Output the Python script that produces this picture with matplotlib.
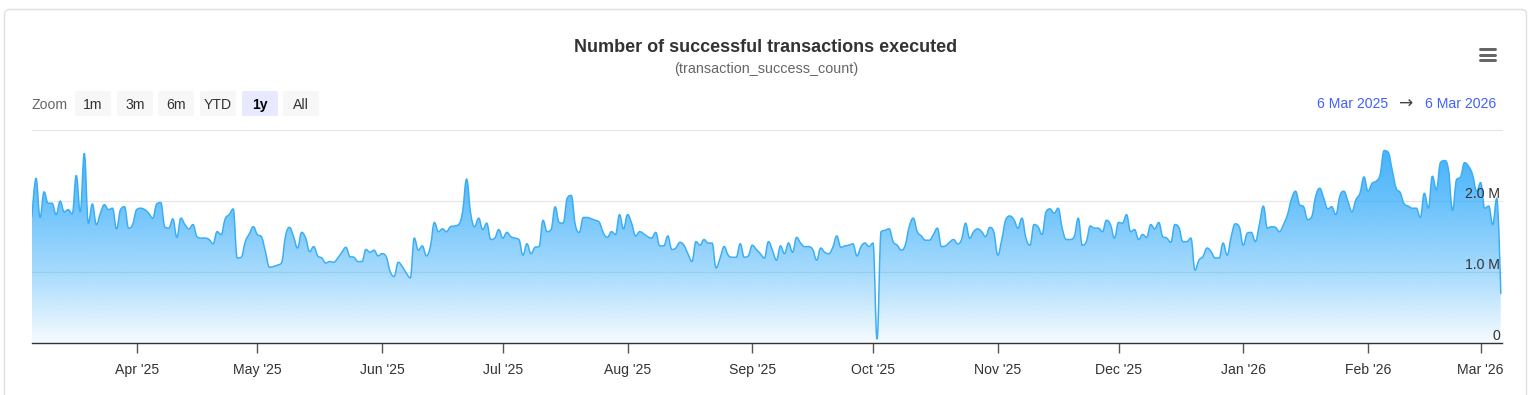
import numpy as np
import pandas as pd
import matplotlib
matplotlib.use("Agg")
import matplotlib.pyplot as plt
import matplotlib.dates as mdates
from matplotlib.path import Path
from matplotlib.patches import PathPatch, FancyBboxPatch
from matplotlib.lines import Line2D
from matplotlib.transforms import IdentityTransform

plt.rcParams['font.family'] = ['Liberation Sans', 'DejaVu Sans']

# ---------------- data ----------------
title = "Number of successful transactions executed"
subtitle = "(transaction_success_count)"
start_date = "2025-03-06"
range_start_label = "6 Mar 2025"
range_end_label = "6 Mar 2026"
zoom_buttons = ["1m", "3m", "6m", "YTD", "1y", "All"]
selected_button = "1y"
y_tick_values = [0, 1_000_000, 2_000_000]
y_tick_labels = ["0", "1.0 M", "2.0 M"]
y_grid_values = [0, 1_000_000, 2_000_000, 3_000_000]

# daily successful transactions (millions), 6 Mar 2025 .. 6 Mar 2026
tx_millions = [
    1.78, 2.32, 1.77, 2.13, 1.97, 1.97, 1.81, 2.00, 1.85, 1.88,
    1.82, 2.36, 1.85, 2.67, 1.69, 1.96, 1.67, 1.83, 1.95, 1.88,
    1.90, 1.61, 1.88, 1.92, 1.62, 1.67, 1.88, 1.90, 1.88, 1.83,
    1.76, 1.96, 1.98, 1.64, 1.62, 1.75, 1.49, 1.76, 1.67, 1.61,
    1.67, 1.50, 1.48, 1.48, 1.46, 1.40, 1.57, 1.53, 1.75, 1.81,
    1.89, 1.20, 1.21, 1.43, 1.54, 1.64, 1.53, 1.50, 1.29, 1.07,
    1.08, 1.10, 1.13, 1.51, 1.63, 1.50, 1.34, 1.56, 1.48, 1.29,
    1.36, 1.23, 1.20, 1.13, 1.15, 1.14, 1.20, 1.28, 1.35, 1.22,
    1.21, 1.15, 1.15, 1.32, 1.28, 1.31, 1.23, 1.26, 1.22, 1.01,
    0.94, 1.14, 1.08, 0.99, 0.92, 1.48, 1.31, 1.37, 1.23,
    1.36, 1.70, 1.57, 1.61, 1.57, 1.64, 1.65, 1.67, 1.85, 2.31,
    1.83, 1.64, 1.76, 1.60, 1.69, 1.46, 1.48, 1.60, 1.48, 1.56,
    1.50, 1.48, 1.46, 1.24, 1.40, 1.26, 1.35, 1.36, 1.73, 1.57,
    1.60, 1.92, 1.70, 1.69, 2.04, 2.08, 1.67, 1.56, 1.77, 1.77,
    1.75, 1.73, 1.70, 1.55, 1.49, 1.57, 1.53, 1.81, 1.61, 1.81,
    1.69, 1.51, 1.57, 1.54, 1.50, 1.48, 1.56, 1.37, 1.37, 1.51,
    1.32, 1.34, 1.42, 1.38, 1.26, 1.15, 1.43, 1.38, 1.46, 1.41,
    1.41, 1.06, 1.20, 1.36, 1.24, 1.21, 1.21, 1.40, 1.21, 1.23,
    1.38, 1.32, 1.26, 1.20, 1.43, 1.31, 1.17, 1.37, 1.26, 1.41,
    1.28, 1.49, 1.41, 1.36, 1.36, 1.32, 1.17, 1.34,
    1.28, 1.26, 1.35, 1.51, 1.35, 1.37, 1.38, 1.40, 1.23, 1.36,
    1.41, 1.36, 1.41, 0.06, 1.57, 1.59, 1.61, 1.43, 1.38, 1.31,
    1.38, 1.64, 1.76, 1.57, 1.51, 1.45, 1.45, 1.53, 1.62, 1.36,
    1.37, 1.42, 1.46, 1.40, 1.46, 1.69, 1.48, 1.57, 1.61, 1.57,
    1.50, 1.63, 1.57, 1.24, 1.46, 1.74, 1.79, 1.74, 1.62, 1.76,
    1.48, 1.38, 1.67, 1.64, 1.53, 1.85, 1.89, 1.83, 1.90, 1.62,
    1.46, 1.46, 1.50, 1.76, 1.38, 1.43, 1.65, 1.62, 1.62, 1.57,
    1.73, 1.67, 1.48, 1.70, 1.69, 1.81, 1.57, 1.60, 1.46, 1.53,
    1.49, 1.67, 1.61, 1.70, 1.50, 1.48, 1.42, 1.67, 1.63, 1.43,
    1.43, 1.48, 1.03, 1.17, 1.22, 1.34,
    1.29, 1.20, 1.20, 1.41, 1.24, 1.50, 1.68, 1.64, 1.38, 1.55,
    1.56, 1.43, 1.67, 1.93, 1.62, 1.64, 1.63, 1.57, 1.67, 1.81,
    2.03, 2.14, 1.95, 1.92, 1.74, 1.78, 2.07, 2.18, 2.04, 1.89,
    1.92, 1.81, 2.07, 2.14, 2.00, 1.85, 2.02, 2.11, 2.34, 2.14,
    2.25, 2.28, 2.37, 2.71, 2.69, 2.44, 2.18, 2.12, 1.96, 1.93,
    1.90, 1.90, 1.77, 2.11, 1.90, 2.35, 2.16, 2.54, 2.57, 2.44,
    1.87, 2.30, 2.34, 2.54, 2.49, 2.37, 2.14, 2.26, 1.90, 1.93,
    1.67, 2.04, 0.70,
]

# ---------------- figure ----------------
W, H = 1531, 395
fig = plt.figure(figsize=(W / 100, H / 100), dpi=100)
fig.patch.set_facecolor("white")


def fx(px):
    return px / W


def fy(py):
    return 1 - py / H


PX = 0.72  # px -> pt at dpi 100

# outer card border
fig.add_artist(FancyBboxPatch((4.5, -20), 1522, H - 9.5 + 20,
                              boxstyle="round,pad=0,rounding_size=5",
                              transform=IdentityTransform(), facecolor="white",
                              edgecolor="#e0e0e0", linewidth=1.0, zorder=0))

# title / subtitle
fig.text(fx(766), fy(52.5), title, ha="center", va="baseline",
         fontsize=18 * PX, fontweight="bold", color="#333333")
fig.text(fx(766), fy(73.5), subtitle, ha="center", va="baseline",
         fontsize=14.4 * PX, color="#666666")

# hamburger menu
for yy in (49.3, 54.7, 60.3):
    fig.add_artist(Line2D([fx(1479.5), fx(1494.5)], [fy(yy), fy(yy)],
                          transform=fig.transFigure, color="#666666",
                          linewidth=3 * PX, solid_capstyle="round"))

# zoom buttons
fig.text(fx(32), fy(109.5), "Zoom", ha="left", va="baseline",
         fontsize=14 * PX, color="#666666")
btn_x = [75, 117, 158, 200, 242, 283]
btn_w = 36
for bx, lab in zip(btn_x, zoom_buttons):
    sel = lab == selected_button
    fig.add_artist(FancyBboxPatch((bx, H - 116), btn_w, 25,
                                  boxstyle="round,pad=0,rounding_size=2",
                                  transform=IdentityTransform(),
                                  facecolor="#e6e9ff" if sel else "#f7f7f7",
                                  edgecolor="none", zorder=1))
    fig.text(fx(bx + btn_w / 2), fy(109.5), lab, ha="center", va="baseline",
             fontsize=14 * PX, color="#000000" if sel else "#333333",
             fontweight="bold" if sel else "normal", zorder=2)

# date range
fig.text(fx(1388.5), fy(108.3), range_start_label, ha="right", va="baseline",
         fontsize=14 * PX, color="#4060ff")
fig.text(fx(1406), fy(103.5), "\u2192", ha="center", va="center",
         fontsize=17 * PX, color="#444444", family=["DejaVu Sans"])
fig.text(fx(1496.5), fy(108.3), range_end_label, ha="right", va="baseline",
         fontsize=14 * PX, color="#4060ff")

# ---------------- plot area ----------------
ax_left, ax_right, ax_top, ax_bottom = 32, 1502, 130, 343.3
ax = fig.add_axes([fx(ax_left), fy(ax_bottom), fx(ax_right - ax_left),
                   (ax_bottom - ax_top) / H])
ax.set_facecolor("none")

dates = pd.date_range(start_date, periods=len(tx_millions), freq="D")
xs = mdates.date2num(dates)
ys = np.array(tx_millions) * 1e6


def highcharts_spline(x, y, smoothing=1.5):
    n = len(x)
    den = smoothing + 1
    lc = [(x[i], y[i]) for i in range(n)]
    rc = [(x[i], y[i]) for i in range(n)]
    for i in range(1, n - 1):
        px_, py_ = x[i - 1], y[i - 1]
        nx_, ny_ = x[i + 1], y[i + 1]
        lcx = (smoothing * x[i] + px_) / den
        lcy = (smoothing * y[i] + py_) / den
        rcx = (smoothing * x[i] + nx_) / den
        rcy = (smoothing * y[i] + ny_) / den
        corr = (rcy - lcy) * (rcx - x[i]) / (rcx - lcx) + y[i] - rcy
        lcy += corr
        rcy += corr
        if lcy > py_ and lcy > y[i]:
            lcy = max(py_, y[i]); rcy = 2 * y[i] - lcy
        elif lcy < py_ and lcy < y[i]:
            lcy = min(py_, y[i]); rcy = 2 * y[i] - lcy
        if rcy > ny_ and rcy > y[i]:
            rcy = max(ny_, y[i]); lcy = 2 * y[i] - rcy
        elif rcy < ny_ and rcy < y[i]:
            rcy = min(ny_, y[i]); lcy = 2 * y[i] - rcy
        lc[i] = (lcx, lcy)
        rc[i] = (rcx, rcy)
    verts = [(x[0], y[0])]
    codes = [Path.MOVETO]
    for i in range(1, n):
        verts += [rc[i - 1], lc[i], (x[i], y[i])]
        codes += [Path.CURVE4] * 3
    return verts, codes


v, c = highcharts_spline(xs, ys)
line_path = Path(v, c)
fill_path = Path(v + [(xs[-1], 0), (xs[0], 0), (xs[0], 0)],
                 c + [Path.LINETO, Path.LINETO, Path.CLOSEPOLY])

x_lo = xs[0]
x_hi = xs[0] + 365.3
y_hi = 3_000_000

# gradient fill
clip = PathPatch(fill_path, facecolor="none", edgecolor="none")
ax.add_patch(clip)
levels = np.linspace(0, y_hi, 400)
alpha = np.interp(levels, [0, 1e6, 2e6, 2.72e6, 3e6], [0.04, 0.40, 0.68, 0.84, 0.88])
rgba = np.zeros((400, 1, 4))
rgba[..., 0] = 34 / 255
rgba[..., 1] = 164 / 255
rgba[..., 2] = 250 / 255
rgba[:, 0, 3] = alpha
im = ax.imshow(rgba, extent=[x_lo, x_hi, 0, y_hi], origin="lower",
               aspect="auto", interpolation="bilinear", zorder=2)
im.set_clip_path(clip)

ax.add_patch(PathPatch(line_path, facecolor="none", edgecolor="#3aaef5",
                       linewidth=1.5 * PX, zorder=3, capstyle="round",
                       joinstyle="round"))

ax.set_xlim(x_lo, x_hi)
ax.set_ylim(0, y_hi)

# grid
ax.set_yticks(y_grid_values)
ax.grid(axis="y", color="#e6e6e6", linewidth=1.2 * PX)
ax.set_axisbelow(True)
ax.tick_params(axis="y", length=0, labelleft=False)
for gl in ax.get_ygridlines():
    gl.set_clip_on(False)

for val, lab in zip(y_tick_values, y_tick_labels):
    ax.annotate(lab, xy=(1, val), xycoords=("axes fraction", "data"),
                xytext=(-2, 3), textcoords="offset pixels", ha="right",
                va="baseline", fontsize=14 * PX, color="#333333", zorder=5)

# x axis
for s in ("top", "left", "right"):
    ax.spines[s].set_visible(False)
ax.spines["bottom"].set_color("#333333")
ax.spines["bottom"].set_linewidth(1.0)
ax.spines["bottom"].set_zorder(4)
ax.xaxis.set_major_locator(mdates.MonthLocator())
ax.xaxis.set_major_formatter(mdates.DateFormatter("%b '%y"))
ax.tick_params(axis="x", length=10 * PX, width=1.0, color="#555555",
               labelsize=14 * PX, labelcolor="#333333", pad=10 * PX)

fig.savefig("out.png", dpi=100)
